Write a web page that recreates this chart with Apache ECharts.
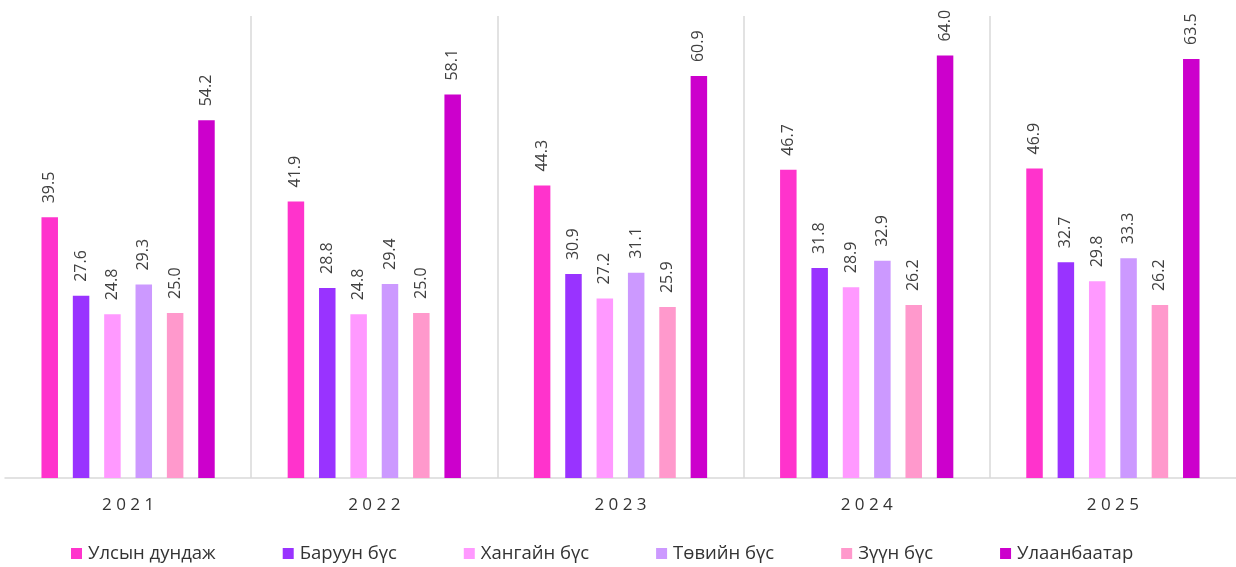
<!DOCTYPE html>
<html>
<head>
<meta charset="utf-8">
<script src="https://cdn.jsdelivr.net/npm/echarts@6/dist/echarts.min.js"></script>
<style>html,body{margin:0;padding:0;background:#fff}#c{width:1236px;height:567px}</style>
</head>
<body>
<div id="c"></div>
<script>
const categories = ['2021', '2022', '2023', '2024', '2025'];
const seriesNames = ['Улсын дундаж', 'Баруун бүс', 'Хангайн бүс', 'Төвийн бүс', 'Зүүн бүс', 'Улаанбаатар'];
const ulsyn = [39.5, 41.9, 44.3, 46.7, 46.9];
const baruun = [27.6, 28.8, 30.9, 31.8, 32.7];
const khangai = [24.8, 24.8, 27.2, 28.9, 29.8];
const tuv = [29.3, 29.4, 31.1, 32.9, 33.3];
const zuun = [25.0, 25.0, 25.9, 26.2, 26.2];
const ub = [54.2, 58.1, 60.9, 64.0, 63.5];
const colors = ['#FF33CC', '#9933FF', '#FF99FF', '#CC99FF', '#FF99CC', '#CC00CC'];

const values = [ulsyn, baruun, khangai, tuv, zuun, ub];
const font = '"Open Sans", "Noto Sans", sans-serif';

const chart = echarts.init(document.getElementById('c'), null, {renderer: 'canvas'});
chart.setOption({
  animation: false,
  color: colors,
  textStyle: {fontFamily: font},
  grid: {left: 5, right: -1, top: 16, bottom: 89, containLabel: false},
  legend: {
    left: 66, top: 539,
    itemWidth: 11, itemHeight: 11, itemGap: 67,
    icon: 'rect',
    textStyle: {fontFamily: font, fontSize: 18.5, color: '#333', padding: [0, 0, 0, 1]},
    data: seriesNames
  },
  xAxis: {
    type: 'category',
    data: categories,
    axisLine: {lineStyle: {color: '#d9d9d9', width: 1.5}},
    axisTick: {show: false},
    axisLabel: {
      margin: 19, fontSize: 17, color: '#333', fontFamily: font,
      formatter: v => v.split('').join(' ')
    },
    splitLine: {show: true, lineStyle: {color: ['rgba(0,0,0,0)', '#d9d9d9', '#d9d9d9', '#d9d9d9', '#d9d9d9', 'rgba(0,0,0,0)'], width: 1.5}}
  },
  yAxis: {
    type: 'value', min: 0, max: 70,
    show: false, splitLine: {show: false}
  },
  series: values.map((v, i) => ({
    name: seriesNames[i],
    type: 'bar',
    data: v,
    barWidth: 16.5,
    barGap: '90%',
    itemStyle: {color: colors[i]},
    label: {
      show: true, position: 'top', rotate: 90, distance: 14,
      align: 'left', verticalAlign: 'middle',
      fontSize: 16, color: '#404040', fontFamily: font,
      formatter: p => p.value.toFixed(1)
    }
  }))
});
</script>
</body>
</html>
